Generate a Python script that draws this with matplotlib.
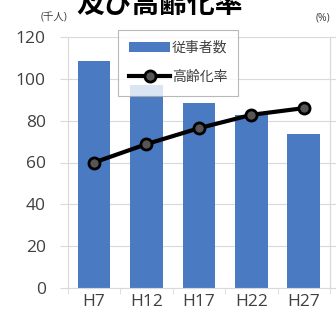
import numpy as np
import matplotlib
matplotlib.use("Agg")
from matplotlib import pyplot as plt

plt.rcParams['font.family'] = ['Open Sans', 'Noto Sans CJK JP', 'DejaVu Sans']

# data
years = ["H7", "H12", "H17", "H22", "H27"]
workers = [108.5, 97, 88.5, 82.5, 73.5]      # 千人 (left axis)
aging_rate = [30.0, 34.4, 38.2, 41.4, 43.0]    # % (right axis, 0-60)

bar_color = '#4a7bc2'
grid_color = '#d9d9d9'
text_color = '#404040'

fig = plt.figure(figsize=(3.36, 3.25), dpi=100)
ax = fig.add_axes([0.202, 0.114, 0.78, 0.772])
x = np.arange(len(years))

bars = ax.bar(x, workers, width=0.62, color=bar_color, zorder=2, label="従事者数")
ax.set_xlim(-0.5, len(years) - 0.5)
ax.set_ylim(0, 120)
ax.set_yticks(range(0, 121, 20))
ax.yaxis.grid(True, color=grid_color, lw=0.8, zorder=0)
ax.set_axisbelow(True)
ax.tick_params(axis='y', labelsize=12.5, colors=text_color, length=6, color=grid_color, pad=10)
ax.set_xticks(x)
ax.set_xticklabels(years)
ax.set_xticks(np.arange(-0.5, len(years)), minor=True)
ax.tick_params(axis='x', which='major', length=0, labelsize=12.5, colors=text_color, pad=4)
ax.tick_params(axis='x', which='minor', length=4, color=grid_color)
for s in ax.spines.values():
    s.set_color(grid_color)
ax.spines['top'].set_visible(False)

ax2 = ax.twinx()
ax2.set_ylim(0, 60)
ax2.set_yticks(range(0, 61, 10))
ax2.set_yticklabels([])
ax2.tick_params(axis='y', length=5, color=grid_color)
for s in ax2.spines.values():
    s.set_visible(False)
ax2.spines['right'].set_visible(True)
ax2.spines['right'].set_color(grid_color)
line, = ax2.plot(x, aging_rate, color='black', lw=3, marker='o', markersize=8,
                 markerfacecolor='#555555', markeredgecolor='black', markeredgewidth=2,
                 label="高齢化率", zorder=3)

leg = ax2.legend([bars, line], ["従事者数", "高齢化率"], loc='upper left',
                 bbox_to_anchor=(0.19, 1.03), fontsize=10, frameon=True, fancybox=False,
                 edgecolor='#a6a6a6', handlelength=3.0, handletextpad=0.1,
                 borderpad=0.8, labelspacing=1.0, borderaxespad=0)
leg.get_frame().set_linewidth(0.8)
for t in leg.get_texts():
    t.set_color(text_color)

fig.text(0.12, 0.945, "(千人)", fontsize=7.5, color=text_color, ha='left', va='center')
fig.text(0.94, 0.945, "(%)", fontsize=7.5, color=text_color, ha='left', va='center')
fig.text(0.476, 0.96, "及び高齢化率", fontsize=20, fontweight='bold', color='black',
         ha='center', va='baseline')

fig.savefig("out.png", dpi=100)
